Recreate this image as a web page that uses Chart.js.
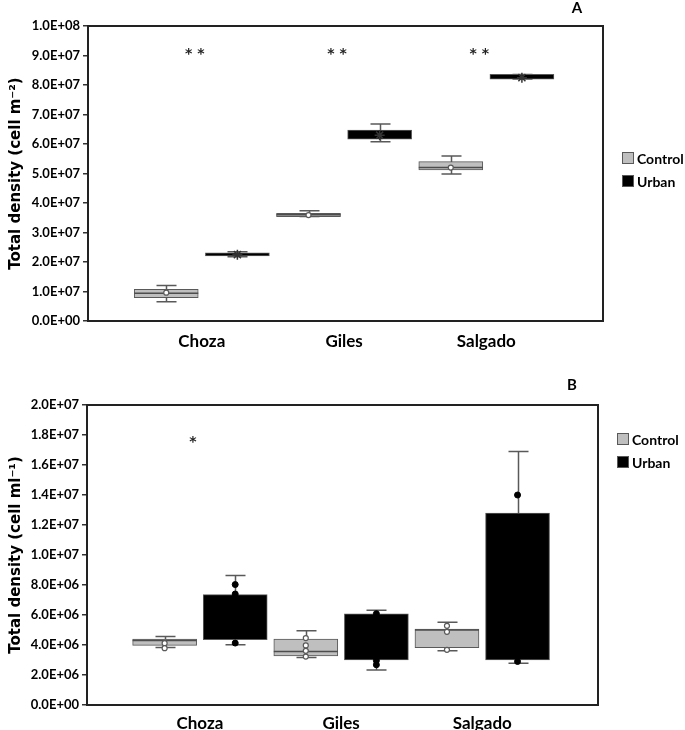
<!DOCTYPE html>
<html lang="en">
<head>
<meta charset="utf-8"/>
<title>Total density</title>
<script src="https://cdn.jsdelivr.net/npm/chart.js"></script>
<style>
body { margin: 0; background: #fff; }
.panel { width: 685px; height: 365px; }
</style>
</head>
<body>
<div class="panel"><canvas id="chartA" width="685" height="365"></canvas></div>
<div class="panel"><canvas id="chartB" width="685" height="365"></canvas></div>
<script>
const sites = ["Choza", "Giles", "Salgado"];
const groups = ["Control", "Urban"];

// panel A, cell m-2
const aCtrlLow  = [6.5e6, 3.54e7, 4.98e7];
const aCtrlQ1   = [7.9e6, 3.54e7, 5.12e7];
const aCtrlMed  = [9.4e6, 3.60e7, 5.20e7];
const aCtrlQ3   = [1.07e7, 3.65e7, 5.40e7];
const aCtrlHigh = [1.2e7, 3.74e7, 5.59e7];
const aCtrlPts  = [[9.6e6], [3.59e7], [5.2e7]];
const aUrbLow   = [2.18e7, 6.08e7, 8.20e7];
const aUrbQ1    = [2.21e7, 6.16e7, 8.20e7];
const aUrbMed   = [2.25e7, 6.30e7, 8.28e7];
const aUrbQ3    = [2.31e7, 6.47e7, 8.36e7];
const aUrbHigh  = [2.35e7, 6.68e7, 8.36e7];
const aUrbPts   = [[2.25e7], [6.3e7], [8.25e7]];
const aSig = ["**", "**", "**"];
const aSigLevel = 9.15e7;

// panel B, cell ml-1
const bCtrlLow  = [3.83e6, 3.16e6, 3.61e6];
const bCtrlQ1   = [3.97e6, 3.28e6, 3.83e6];
const bCtrlMed  = [4.30e6, 3.57e6, 5.00e6];
const bCtrlQ3   = [4.39e6, 4.39e6, 5.06e6];
const bCtrlHigh = [4.57e6, 4.95e6, 5.51e6];
const bCtrlPts  = [[4.12e6, 3.79e6], [4.46e6, 3.97e6, 3.61e6, 3.23e6], [5.28e6, 4.88e6, 3.68e6]];
const bUrbLow   = [4.01e6, 2.34e6, 2.79e6];
const bUrbQ1    = [4.35e6, 3.01e6, 3.01e6];
const bUrbMed   = [5.80e6, 4.60e6, 7.00e6];
const bUrbQ3    = [7.36e6, 6.07e6, 1.28e7];
const bUrbHigh  = [8.63e6, 6.31e6, 1.69e7];
const bUrbPts   = [[8.03e6, 7.4e6, 4.13e6], [6.09e6, 2.96e6, 2.68e6], [1.4e7, 2.9e6]];
const bSig = ["*", "", ""];
const bSigLevel = 1.77e7;

const groupOffset = [-0.25, 0.25];
const ctrlFill = "#bfbfbf";
const urbFill = "#000000";
const edge = "#595959";

function sciLabel(v) {
  const parts = v.toExponential(1).split("e");
  const exp = parts[1];
  return parts[0] + "E" + exp[0] + exp.slice(1).padStart(2, "0");
}

function boxSet(label, g, q1, q3, low, med, high, fill, medColor) {
  return {
    type: "bar", label: label, order: 2, isBox: true,
    data: sites.map((s, i) => ({ x: i + 1 + groupOffset[g], y: [q1[i], q3[i]] })),
    low: low, med: med, high: high, medColor: medColor,
    backgroundColor: fill, borderColor: edge, borderWidth: 1, borderSkipped: false,
    barThickness: 64, grouped: false
  };
}

function pointSet(label, g, pts, style) {
  const data = [];
  pts.forEach((list, i) => list.forEach(v => data.push({ x: i + 1 + groupOffset[g], y: v })));
  return Object.assign({ type: "scatter", label: label, order: 1, data: data }, style);
}

const whiskers = {
  id: "whiskers",
  beforeDatasetsDraw(chart) {
    const { ctx, scales: { x, y } } = chart;
    ctx.save();
    ctx.strokeStyle = edge;
    ctx.lineWidth = 1.5;
    chart.data.datasets.forEach(ds => {
      if (!ds.isBox) return;
      ds.data.forEach((d, i) => {
        const px = Math.round(x.getPixelForValue(d.x)) + 0.5;
        const yl = y.getPixelForValue(ds.low[i]);
        const yh = y.getPixelForValue(ds.high[i]);
        ctx.beginPath();
        ctx.moveTo(px, yl); ctx.lineTo(px, yh);
        ctx.moveTo(px - 10, yl); ctx.lineTo(px + 10, yl);
        ctx.moveTo(px - 10, yh); ctx.lineTo(px + 10, yh);
        ctx.stroke();
      });
    });
    ctx.restore();
  },
  afterDatasetDraw(chart, args) {
    const ds = chart.data.datasets[args.index];
    if (!ds.isBox || !ds.medColor) return;
    const { ctx, scales: { x, y } } = chart;
    ctx.save();
    ctx.strokeStyle = ds.medColor;
    ctx.lineWidth = 1.5;
    ds.data.forEach((d, i) => {
      const px = x.getPixelForValue(d.x);
      const py = y.getPixelForValue(ds.med[i]);
      ctx.beginPath();
      ctx.moveTo(px - 32, py); ctx.lineTo(px + 32, py);
      ctx.stroke();
    });
    ctx.restore();
  }
};

const decor = {
  id: "decor",
  afterDraw(chart, args, opts) {
    const { ctx, chartArea: a, scales: { x, y } } = chart;
    ctx.save();
    // frame
    ctx.strokeStyle = "#222";
    ctx.lineWidth = 2;
    ctx.strokeRect(a.left, a.top, a.right - a.left, a.bottom - a.top);
    // significance marks
    ctx.fillStyle = "#222";
    ctx.font = "bold 14px 'DejaVu Sans'";
    ctx.textAlign = "center";
    ctx.textBaseline = "middle";
    opts.sig.forEach((t, i) => {
      if (t) ctx.fillText(t.split("").join(" "), x.getPixelForValue(i + 1) - 7, y.getPixelForValue(opts.sigLevel) + 3);
    });
    // panel letter
    ctx.fillStyle = "#000";
    ctx.font = "bold 15px Lato";
    ctx.fillText(opts.letter, a.right - 26, opts.letterY);
    // legend
    ctx.textAlign = "left";
    ctx.font = "bold 14px Lato";
    chart.data.datasets.filter(ds => ds.isBox).forEach((ds, k) => {
      const cy = opts.legendY + k * 23;
      ctx.fillStyle = ds.backgroundColor;
      ctx.fillRect(a.right + 19, cy - 6, 12, 12);
      ctx.strokeStyle = edge;
      ctx.lineWidth = 1;
      ctx.strokeRect(a.right + 19.5, cy - 5.5, 11, 11);
      ctx.fillStyle = "#000";
      ctx.fillText(ds.label, a.right + 34, cy + 1);
    });
    ctx.restore();
  }
};

function makePanel(id, cfg) {
  return new Chart(document.getElementById(id), {
    data: {
      datasets: [
        boxSet(groups[0], 0, cfg.cQ1, cfg.cQ3, cfg.cLow, cfg.cMed, cfg.cHigh, ctrlFill, "#4d4d4d"),
        boxSet(groups[1], 1, cfg.uQ1, cfg.uQ3, cfg.uLow, cfg.uMed, cfg.uHigh, urbFill, null),
        pointSet(groups[0] + " points", 0, cfg.cPts, {
          pointStyle: "circle", pointRadius: 2.5, backgroundColor: "#fff", borderColor: edge, borderWidth: 1.2
        }),
        pointSet(groups[1] + " points", 1, cfg.uPts, cfg.uStyle)
      ]
    },
    options: {
      responsive: false,
      animation: false,
      layout: { padding: { top: cfg.top, right: cfg.right, bottom: cfg.bottom, left: 0 } },
      plugins: {
        legend: { display: false },
        tooltip: { enabled: false },
        decor: { sig: cfg.sig, sigLevel: cfg.sigLevel, letter: cfg.letter, letterY: cfg.letterY, legendY: cfg.legendY }
      },
      scales: {
        x: {
          type: "linear", min: 0.2, max: 3.82, offset: false,
          afterBuildTicks: s => { s.ticks = sites.map((n, i) => ({ value: i + 1 })); },
          afterFit: s => { s.height = cfg.xHeight; },
          grid: { display: false },
          border: { display: false },
          ticks: {
            autoSkip: false, maxRotation: 0, padding: cfg.xPad, color: "#000",
            font: { family: "Lato", weight: "bold", size: 17 },
            callback: v => sites[v - 1]
          }
        },
        y: {
          min: 0, max: cfg.yMax,
          afterFit: s => { s.width = cfg.yWidth; },
          grid: { drawOnChartArea: false, drawTicks: true, tickLength: 5, color: "#333", lineWidth: 1.5 },
          border: { display: false },
          ticks: {
            stepSize: cfg.yStep, padding: 3, color: "#000",
            font: { family: "Lato", weight: "bold", size: 13 },
            callback: v => sciLabel(v)
          },
          title: {
            display: true, text: cfg.yTitle, color: "#000", padding: { top: 7, bottom: 0 },
            font: { family: "DejaVu Sans", weight: "bold", size: 15 }
          }
        }
      }
    },
    plugins: [whiskers, decor]
  });
}

makePanel("chartA", {
  cLow: aCtrlLow, cQ1: aCtrlQ1, cMed: aCtrlMed, cQ3: aCtrlQ3, cHigh: aCtrlHigh, cPts: aCtrlPts,
  uLow: aUrbLow, uQ1: aUrbQ1, uMed: aUrbMed, uQ3: aUrbQ3, uHigh: aUrbHigh, uPts: aUrbPts,
  uStyle: { pointStyle: "star", pointRadius: 5, borderColor: "#333", borderWidth: 1.5, backgroundColor: "#333" },
  sig: aSig, sigLevel: aSigLevel, letter: "A", letterY: 8, legendY: 158,
  yMax: 1e8, yStep: 1e7, yTitle: "Total density (cell m\u207B\u00B2)",
  top: 26, right: 82, bottom: 4, xHeight: 40, xPad: 2, yWidth: 88
});

makePanel("chartB", {
  cLow: bCtrlLow, cQ1: bCtrlQ1, cMed: bCtrlMed, cQ3: bCtrlQ3, cHigh: bCtrlHigh, cPts: bCtrlPts,
  uLow: bUrbLow, uQ1: bUrbQ1, uMed: bUrbMed, uQ3: bUrbQ3, uHigh: bUrbHigh, uPts: bUrbPts,
  uStyle: { pointStyle: "circle", pointRadius: 3, borderColor: "#000", borderWidth: 1, backgroundColor: "#000" },
  sig: bSig, sigLevel: bSigLevel, letter: "B", letterY: 20, legendY: 74,
  yMax: 2e7, yStep: 2e6, yTitle: "Total density (cell ml\u207B\u00B9)",
  top: 40, right: 87, bottom: 0, xHeight: 25, xPad: 0, yWidth: 87
});
</script>
</body>
</html>
